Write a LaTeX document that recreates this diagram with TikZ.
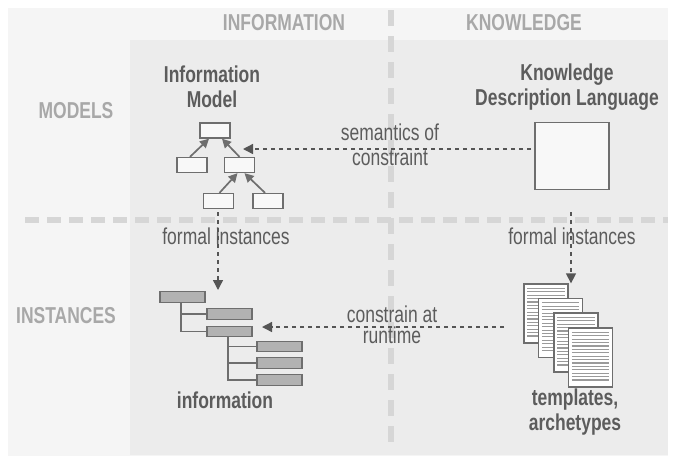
\documentclass[tikz,border=0pt]{standalone}
\usepackage{fontspec}
\setmainfont{Liberation Sans}[FakeStretch=0.76]
\usetikzlibrary{arrows.meta}
\definecolor{outerbg}{HTML}{F5F5F5}
\definecolor{innerbg}{HTML}{ECECEC}
\definecolor{divider}{HTML}{D6D6D6}
\definecolor{headgray}{HTML}{A8A8A8}
\definecolor{textgray}{HTML}{5C5C5C}
\definecolor{linegray}{HTML}{555555}
\definecolor{boxborder}{HTML}{6E6E6E}
\definecolor{boxfill}{HTML}{F8F8F8}
\definecolor{recfill}{HTML}{B2B2B2}
\definecolor{stripe}{HTML}{9A9A9A}
\tikzset{
  header/.style={font=\bfseries\fontsize{23}{23}\selectfont, text=headgray, inner sep=0pt},
  title/.style={font=\bfseries\fontsize{23}{25}\selectfont, text=textgray, align=center, inner sep=0pt},
  label/.style={font=\fontsize{23}{25}\selectfont, text=textgray, align=center, inner sep=0pt},
  classbox/.style={draw=boxborder, fill=boxfill, line width=1.3pt, minimum width=30pt, minimum height=15pt, inner sep=0pt},
  recbox/.style={draw=boxborder, fill=recfill, line width=1.3pt, minimum width=45pt, minimum height=10.5pt, inner sep=0pt},
  page/.style={draw=boxborder, fill=white, line width=1.3pt, minimum width=44pt, minimum height=59pt, inner sep=0pt},
  inherit/.style={draw=boxborder, line width=1.7pt, -{Triangle[length=9pt,width=9pt]}},
  flow/.style={draw=linegray, line width=1.4pt, dash pattern=on 4pt off 4pt, -{Triangle[length=10pt,width=10pt]}},
  treeline/.style={draw=boxborder, line width=1.3pt},
  divline/.style={draw=divider, line width=6pt},
}
\begin{document}
\begin{tikzpicture}[x=1pt,y=-1pt]
\useasboundingbox (0,0) rectangle (674,459);
\fill[white] (0,0) rectangle (674,459);
% panels
\fill[outerbg] (8,8) rectangle (668,456);
\fill[innerbg] (130,40) rectangle (668,455);
% quadrant dividers
\draw[divline, dash pattern=on 16pt off 10pt] (391,10) -- (391,452);
\draw[divline, dash pattern=on 14pt off 8pt] (25,220) -- (668,220);

% column and row headers
\node[header] (hinfo) at (284,22.5) {INFORMATION};
\node[header] (hknow) at (524,22.5) {KNOWLEDGE};
\node[header] (hmod) at (76,110.5) {MODELS};
\node[header] (hinst) at (66,315.5) {INSTANCES};

% titles
\node[title] (timodel) at (212,86.5) {Information\\Model};
\node[title] (tkdl) at (567,87) {Knowledge\\Description Language};

% information model class tree
\node[classbox] (c0) at (215,130.5) {};
\node[classbox] (c1) at (192,165) {};
\node[classbox] (c2) at (239.5,165) {};
\node[classbox] (c3) at (218.5,201) {};
\node[classbox] (c4) at (268,201) {};
\draw[inherit] (c1.north) ++(-2,0) -- ([xshift=-6pt]c0.south);
\draw[inherit] (c2.north) ++(0,0) -- ([xshift=7pt]c0.south);
\draw[inherit] (c3.north) ++(1,0) -- ([xshift=-2pt]c2.south);
\draw[inherit] (c4.north) ++(-3,0) -- ([xshift=5pt]c2.south);

% knowledge description language
\node[draw=boxborder, fill=boxfill, line width=1.8pt, minimum width=74pt, minimum height=67pt, inner sep=0pt] (kdl) at (572,156) {};

% information instance tree
\node[recbox] (r0) at (182.5,297) {};
\node[recbox] (r1) at (229.5,314) {};
\node[recbox] (r2) at (229.5,331.5) {};
\node[recbox] (r3) at (279.5,346.5) {};
\node[recbox] (r4) at (279.5,363) {};
\node[recbox] (r5) at (279.5,380) {};
\draw[treeline] (181,302) |- (r1.west);
\draw[treeline] (181,302) |- (r2.west);
\draw[treeline] (228,337) |- (r3.west);
\draw[treeline] (228,337) |- (r4.west);
\draw[treeline] (228,337) |- (r5.west);
\node[title] (tinfo) at (225,400) {information};

% templates / archetypes page stack
\foreach \i/\x/\y in {1/546/313.5, 2/560.5/328, 3/576/342.5, 4/590.5/357.5} {
  \node[page] (p\i) at (\x,\y) {};
  \foreach \k in {0,...,14} {
    \draw[stripe, line width=1.1pt] ([xshift=4pt,yshift=-5pt-3.4*\k pt]p\i.north west) -- ([xshift=-4pt,yshift=-5pt-3.4*\k pt]p\i.north east);
  }
}
\node[title] (ttempl) at (575,412) {templates,\\archetypes};

% relations between quadrants
\node[label] (lsem) at (390,144.5) {semantics of\\constraint};
\node[label, font=\fontsize{23}{21}\selectfont] (lrun) at (392,325) {constrain at\\runtime};
\node[label] (lfi1) at (226,236.5) {formal instances};
\node[label] (lfi2) at (572,236.5) {formal instances};

\coordinate (fi1top) at (218,212);
\coordinate (fi2top) at (571,212);
\coordinate (semend) at (243,149);
\coordinate (runend) at (262,327);
\draw[flow] (kdl.west) ++(-3,-7) -- (semend);
\draw[flow] (504,327) -- (runend);
\draw[flow] (fi1top) -- (218,290);
\draw[flow] (fi2top) -- (p1.north -| fi2top);
\end{tikzpicture}
\end{document}
